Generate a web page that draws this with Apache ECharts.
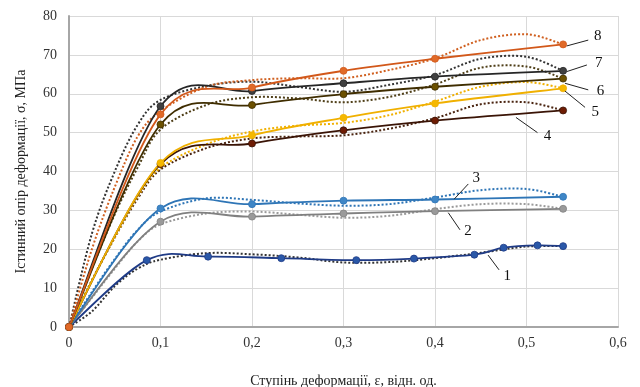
<!DOCTYPE html>
<html><head><meta charset="utf-8">
<script src="https://cdn.jsdelivr.net/npm/echarts@6/dist/echarts.min.js"></script>
<style>html,body{margin:0;padding:0;background:#fff}#c{width:640px;height:387px}</style>
</head><body><div id="c"></div>
<script>
// ---- data ----
const xTicks = [0, 0.1, 0.2, 0.3, 0.4, 0.5, 0.6];
const yTicks = [0, 10, 20, 30, 40, 50, 60, 70, 80];
const curveNames = ['1','2','3','4','5','6','7','8'];

// experimental (solid, with markers)
const eps1 = [0, 0.085, 0.152, 0.232, 0.314, 0.377, 0.443, 0.475, 0.512, 0.54];
const sig1 = [0, 17.2, 18.1, 17.7, 17.2, 17.6, 18.6, 20.4, 21.0, 20.8];
const epsExp = [0, 0.1, 0.2, 0.3, 0.4, 0.54];
const sig2 = [0, 27.1, 28.4, 29.2, 29.8, 30.4];
const sig3 = [0, 30.5, 31.6, 32.5, 32.8, 33.5];
const sig4 = [0, 41.9, 47.2, 50.6, 53.1, 55.7];
const sig5 = [0, 42.2, 49.3, 53.8, 57.5, 61.4];
const sig6 = [0, 52.1, 57.1, 59.9, 61.8, 63.9];
const sig7 = [0, 56.8, 60.7, 62.7, 64.4, 65.9];
const sig8 = [0, 54.7, 61.6, 65.9, 69.0, 72.7];

// calculated (dotted)
const epsCalc = [0, 0.025, 0.05, 0.075, 0.1, 0.15, 0.2, 0.25, 0.3, 0.35, 0.4, 0.45, 0.5, 0.54];
const calc1 = [0, 4, 10.5, 15, 17.3, 19.0, 18.7, 17.9, 16.6, 16.7, 17.7, 19.1, 20.7, 20.8];
const calc2 = [0, 7.5, 15, 22, 26.4, 29.2, 29.7, 28.9, 28.1, 28.6, 30.3, 31.6, 31.6, 30.4];
const calc3 = [0, 9, 17.5, 25, 29.7, 33.1, 32.7, 31.8, 31.2, 31.6, 33.3, 35.2, 35.5, 33.5];
const calc4 = [0, 12, 23, 33, 40.5, 46.0, 48.5, 49.0, 49.3, 51.0, 53.7, 57.3, 57.8, 55.7];
const calc5 = [0, 12, 23, 33.5, 41, 47.0, 50.3, 51.8, 52.5, 54.5, 58.0, 61.8, 63.0, 61.4];
const calc6 = [0, 15, 29, 41, 50.8, 57.1, 59.1, 58.8, 57.8, 59.2, 62.4, 66.7, 67.0, 63.9];
const calc7 = [0, 24, 40, 52, 58.4, 62.0, 63.1, 61.8, 60.5, 62.3, 64.8, 69.0, 69.5, 65.9];
const calc8 = [0, 20, 36, 49, 55.5, 61.8, 63.5, 64.0, 64.0, 66.1, 69.1, 73.8, 75.3, 72.7];

// label leaders (data coordinates): [fromX, fromY, toX, toY, textX, textY]
const leaders = [
  [0.458, 18.5, 0.470, 14.7, 0.479, 13.2],
  [0.4145, 29.4, 0.4273, 25.0, 0.436, 24.6],
  [0.421, 32.9, 0.4364, 36.8, 0.445, 38.4],
  [0.4885, 53.9, 0.512, 50.0, 0.523, 49.0],
  [0.542, 60.7, 0.564, 56.5, 0.575, 55.4],
  [0.542, 62.7, 0.5675, 61.0, 0.581, 60.8],
  [0.544, 65.7, 0.566, 67.4, 0.579, 67.8],
  [0.544, 72.3, 0.5675, 73.8, 0.578, 74.8]
];

const lineColors = ['#1f3b86','#808080','#2e75b6','#3a1406','#f0b000','#3f2d00','#262626','#d2581a'];
const markColors = ['#2a58a8','#9a9a9a','#3f86c6','#6e1c04','#f5b800','#6b5000','#404040','#e06a28'];
const calcColors = ['#333333','#9a9a9a','#2e75b6','#4a2410','#f0b000','#4f3f18','#333333','#d06020'];

const expX = [eps1, epsExp, epsExp, epsExp, epsExp, epsExp, epsExp, epsExp];
const expY = [sig1, sig2, sig3, sig4, sig5, sig6, sig7, sig8];
const calcY = [calc1, calc2, calc3, calc4, calc5, calc6, calc7, calc8];

const FONT = '"Liberation Serif", "Times New Roman", serif';

// Excel-like (Catmull-Rom) smooth path through points mapped by the axes
function smoothPath(api, xs, ys) {
  const p = xs.map((x, i) => api.coord([x, ys[i]]));
  let d = 'M' + p[0][0] + ' ' + p[0][1];
  const n = p.length;
  for (let i = 0; i < n - 1; i++) {
    const p0 = p[i - 1] || p[i], p1 = p[i], p2 = p[i + 1], p3 = p[i + 2] || p[i + 1];
    const c1x = p1[0] + (p2[0] - p0[0]) / 6, c1y = p1[1] + (p2[1] - p0[1]) / 6;
    const c2x = p2[0] - (p3[0] - p1[0]) / 6, c2y = p2[1] - (p3[1] - p1[1]) / 6;
    d += ' C' + c1x + ' ' + c1y + ' ' + c2x + ' ' + c2y + ' ' + p2[0] + ' ' + p2[1];
  }
  return d;
}
function curveSeries(name, xs, ys, stroke, width, dash, z) {
  return {
    name: name, type: 'custom', z: z, silent: true,
    data: xs.map((x, i) => [x, ys[i]]),
    encode: { x: 0, y: 1 },
    renderItem: (params, api) => {
      if (params.dataIndex !== 0) return null;
      return { type: 'path', shape: { pathData: smoothPath(api, xs, ys) },
        style: { fill: 'none', stroke: stroke, lineWidth: width, lineDash: dash } };
    }
  };
}

const series = [];
calcY.forEach((arr, k) => {
  series.push(curveSeries('calc ' + curveNames[k], epsCalc, arr, calcColors[k], 2, [2, 2], 2));
});
expY.forEach((arr, k) => {
  series.push(curveSeries('exp ' + curveNames[k], expX[k], arr, lineColors[k], 1.8, null, 3));
  series.push({
    name: curveNames[k], type: 'scatter', symbol: 'circle', symbolSize: 7, z: 4,
    data: expX[k].map((e, i) => [e, arr[i]]),
    itemStyle: { color: markColors[k], borderColor: lineColors[k], borderWidth: 0.8, opacity: 1 }
  });
});

const chart = echarts.init(document.getElementById('c'));
chart.setOption({
  animation: false,
  backgroundColor: '#fff',
  grid: { left: 69, right: 22, top: 16, bottom: 60, containLabel: false, outerBoundsMode: 'none' },
  xAxis: {
    type: 'value', min: xTicks[0], max: xTicks[xTicks.length - 1], interval: 0.1,
    name: 'Ступінь деформації, ε, відн. од.', nameLocation: 'middle', nameGap: 47,
    nameTextStyle: { fontFamily: FONT, fontSize: 14, color: '#222' },
    axisLine: { show: true, lineStyle: { color: '#a6a6a6', width: 2 } },
    axisTick: { show: false },
    splitLine: { show: true, lineStyle: { color: '#d9d9d9', width: 1 } },
    axisLabel: { fontFamily: FONT, fontSize: 14, color: '#333', margin: 9,
      formatter: v => String(Math.round(v * 10) / 10).replace('.', ',') }
  },
  yAxis: {
    type: 'value', min: yTicks[0], max: yTicks[yTicks.length - 1], interval: 10,
    name: 'Істинний опір деформації, σ, МПа', nameLocation: 'middle', nameGap: 41,
    nameTextStyle: { fontFamily: FONT, fontSize: 14, color: '#222' },
    axisLine: { show: true, lineStyle: { color: '#a6a6a6', width: 2 } },
    axisTick: { show: false },
    splitLine: { show: true, lineStyle: { color: '#d9d9d9', width: 1 } },
    axisLabel: { fontFamily: FONT, fontSize: 14, color: '#333', margin: 12 }
  },
  series: series
});

function drawLeaders() {
  const g = [];
  leaders.forEach((L, k) => {
    const a = chart.convertToPixel({ gridIndex: 0 }, [L[0], L[1]]);
    const b = chart.convertToPixel({ gridIndex: 0 }, [L[2], L[3]]);
    const t = chart.convertToPixel({ gridIndex: 0 }, [L[4], L[5]]);
    g.push({ type: 'line', shape: { x1: a[0], y1: a[1], x2: b[0], y2: b[1] },
      style: { stroke: '#222', lineWidth: 1 }, z: 10 });
    g.push({ type: 'text', x: t[0], y: t[1], z: 10,
      style: { text: curveNames[k], fontFamily: FONT, fontSize: 15, fill: '#111',
        align: 'center', verticalAlign: 'middle' } });
  });
  chart.setOption({ graphic: g });
}
drawLeaders();
</script>
</body></html>
